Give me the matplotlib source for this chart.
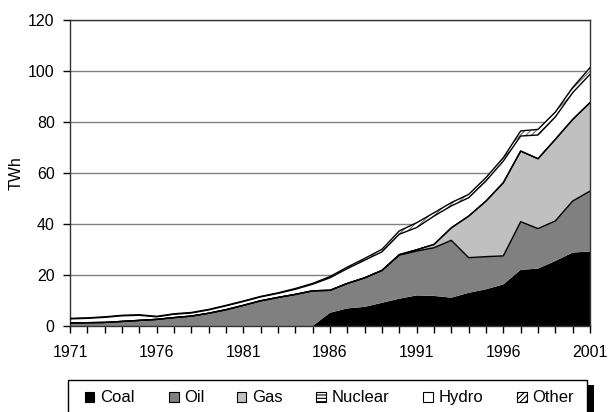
import numpy as np
import matplotlib
matplotlib.use('Agg')
import matplotlib.pyplot as plt
import matplotlib.patches as patches

years = np.arange(1971, 2002)

# TWh by source
coal = [0, 0, 0, 0, 0, 0, 0, 0, 0, 0, 0, 0, 0, 0, 0,
        5.2, 6.9, 7.5, 9.1, 10.7, 12.0, 11.8, 11.1, 13.0, 14.4, 16.3,
        22.0, 22.5, 25.5, 28.8, 29.2]
oil = [1.2, 1.3, 1.4, 1.8, 2.2, 2.6, 3.3, 3.9, 5.0, 6.4, 8.1, 9.9, 11.2, 12.4, 13.8,
       8.8, 9.8, 11.4, 12.7, 17.1, 17.4, 18.9, 22.5, 13.8, 12.8, 11.2,
       18.9, 15.7, 15.7, 20.2, 23.7]
gas = [0, 0, 0, 0, 0, 0, 0, 0, 0, 0, 0, 0, 0, 0, 0,
       0, 0, 0, 0, 0.2, 0.5, 1.3, 4.9, 16.3, 21.8, 28.7,
       27.7, 27.4, 32.0, 32.0, 34.7]
nuclear = [0] * 31
hydro = [1.6, 1.7, 2.0, 2.2, 2.0, 1.0, 1.3, 1.2, 1.3, 1.5, 1.5, 1.5, 1.6, 2.0, 2.6,
         4.9, 5.8, 6.9, 7.3, 8.0, 8.7, 11.1, 8.6, 7.2, 7.9, 8.5,
         5.9, 9.3, 8.8, 10.5, 11.1]
other = [0.2, 0.2, 0.2, 0.2, 0.2, 0.2, 0.2, 0.2, 0.2, 0.2, 0.2, 0.2, 0.2, 0.3, 0.3,
         0.5, 0.6, 0.7, 1.0, 1.3, 1.9, 1.3, 1.3, 1.3, 1.3, 1.3,
         2.0, 2.2, 1.9, 2.0, 2.6]

labels = ['Coal', 'Oil', 'Gas', 'Nuclear', 'Hydro', 'Other']
series = [coal, oil, gas, nuclear, hydro, other]
fills = ['black', '#808080', '#c0c0c0', 'white', 'white', 'white']
hatches = [None, None, None, '-----', None, '//////']

plt.rcParams['font.family'] = ['Liberation Sans', 'DejaVu Sans']
plt.rcParams['hatch.linewidth'] = 0.8
fs = 11.5
W, H = 610, 412  # figure size in pixels, used for the legend layout

fig = plt.figure(figsize=(6.1, 4.12), dpi=100)
ax = fig.add_axes([70 / W, 1 - 326 / H, 520 / W, 306 / H])

tops = np.cumsum(np.array(series, dtype=float), axis=0)
base = np.zeros(len(years))
for top, fc, h in zip(tops, fills, hatches):
    if h is None:
        ax.fill_between(years, base, top, facecolor=fc, edgecolor='none', lw=0, zorder=2)
    else:
        ax.fill_between(years, base, top, facecolor=fc, edgecolor='#707070',
                        hatch=h, lw=0, zorder=2)
    base = top
# black border on each band
for top in tops[1:]:
    ax.plot(years, top, color='black', lw=1, zorder=3)

ax.set_xlim(1971, 2001)
ax.set_ylim(0, 120)
ax.set_yticks(range(0, 121, 20))
ax.set_xticks(range(1971, 2002, 5))
ax.set_xticks(years, minor=True)
ax.tick_params(axis='both', direction='out', labelsize=fs, length=5, width=1)
ax.tick_params(axis='x', which='minor', length=5, width=1)
ax.tick_params(axis='x', pad=9)
ax.tick_params(axis='y', pad=6)
ax.yaxis.grid(True, color='#808080', lw=1, zorder=1)
ax.set_axisbelow(True)
for s in ax.spines.values():
    s.set_color('#333333')
    s.set_linewidth(1)
ax.set_ylabel('TWh', fontsize=fs, labelpad=3)

# legend box with a black drop shadow, running off the bottom edge
fig.patches.append(patches.Rectangle((586 / W, -0.05), 8 / W, 0.05 + 1 - 385 / H,
                                     transform=fig.transFigure, facecolor='black',
                                     edgecolor='none', zorder=0))
fig.patches.append(patches.Rectangle((68 / W, -0.05), (587 - 68) / W, 0.05 + 1 - 380 / H,
                                     transform=fig.transFigure, facecolor='white',
                                     edgecolor='black', lw=1, zorder=1))
key_x = [85, 169, 237, 316, 423, 517]
for x, lab, fc, h in zip(key_x, labels, fills, hatches):
    fig.patches.append(patches.Rectangle((x / W, 1 - 401.5 / H), 9.5 / W, 9.5 / H,
                                         transform=fig.transFigure, facecolor=fc,
                                         edgecolor='black', hatch=h, lw=0.8, zorder=2))
    fig.text((x + 15.5) / W, 1 - 402 / H, lab, fontsize=12, va='baseline', ha='left')

fig.savefig('out.png', dpi=100)
